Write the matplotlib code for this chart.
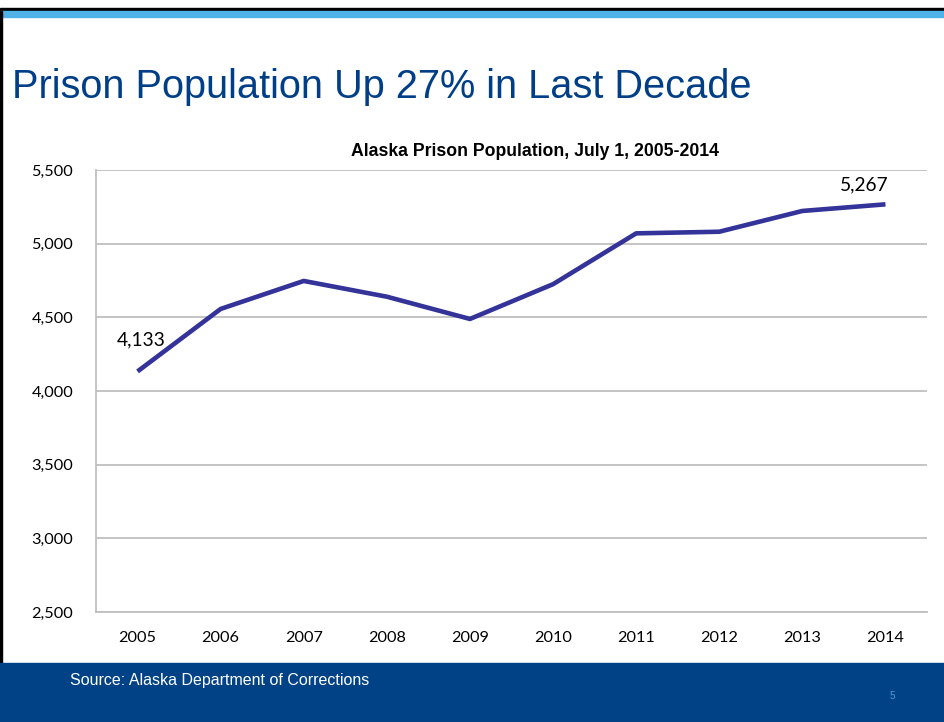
import matplotlib.pyplot as plt
from matplotlib.patches import Rectangle
from matplotlib.ticker import FuncFormatter

# Alaska prison population on July 1 of each year
years = ['2005', '2006', '2007', '2008', '2009', '2010', '2011', '2012', '2013', '2014']
population = [4133, 4557, 4747, 4640, 4489, 4725, 5070, 5081, 5222, 5267]
y_ticks = [2500, 3000, 3500, 4000, 4500, 5000, 5500]

W, H = 945, 722
fig = plt.figure(figsize=(W / 100, H / 100), dpi=100)

# pixel helpers (top-left origin, like the slide)
def fx(px):
    return px / W

def fy(py):
    return 1 - py / H

# slide decorations: black rule, light blue band, left border, footer band
fig.patches.append(Rectangle((0, fy(11)), 1, 3 / H, transform=fig.transFigure,
                             color='black', zorder=0))
fig.patches.append(Rectangle((0, fy(17)), 1, 6 / H, transform=fig.transFigure,
                             color='#4FB3E7', zorder=0))
fig.patches.append(Rectangle((0, fy(663)), 2 / W, (663 - 11) / H, transform=fig.transFigure,
                             color='black', zorder=0))
fig.patches.append(Rectangle((0, 0), 1, (H - 663) / H, transform=fig.transFigure,
                             color='#004285', zorder=0))

# slide title
fig.text(fx(12), fy(98), 'Prison Population Up 27% in Last Decade', fontsize=28.6,
         family='Liberation Sans', color='#003F87', ha='left', va='baseline')

# footer text
fig.text(fx(70), fy(681), 'Source: Alaska Department of Corrections', fontsize=11.5,
         family='Liberation Sans', color='white', ha='left', va='center')
fig.text(fx(892), fy(696), '5', fontsize=7, family='Liberation Sans',
         color='#4A9BE0', ha='center', va='center')

# chart
ax = fig.add_axes([fx(96), fy(612), fx(927) - fx(96), fy(170) - fy(612)])
x = list(range(len(years)))
ax.plot(x, population, color='#333399', linewidth=3.3, solid_capstyle='butt', zorder=3)

ax.set_xlim(-0.5, len(years) - 0.5)
ax.set_ylim(y_ticks[0], y_ticks[-1])
ax.set_xticks(x)
ax.set_xticklabels(years)
ax.set_yticks(y_ticks)
ax.yaxis.set_major_formatter(FuncFormatter(lambda v, p: f'{int(v):,}'))

ax.grid(axis='y', color='#BFBFBF', linewidth=1.3)
ax.set_axisbelow(True)
for side in ['top', 'right']:
    ax.spines[side].set_visible(False)
for side in ['left', 'bottom']:
    ax.spines[side].set_color('#BFBFBF')
    ax.spines[side].set_linewidth(1.3)

ax.tick_params(axis='both', length=0, labelsize=11.7)
ax.tick_params(axis='y', pad=16.5)
ax.tick_params(axis='x', pad=14)
for lbl in ax.get_xticklabels() + ax.get_yticklabels():
    lbl.set_family('Lato')

# end point labels
ax.annotate(f'{population[0]:,}', (x[0], population[0]), xytext=(4, 32),
            textcoords='offset pixels', ha='center', va='center', fontsize=13.8,
            family='Lato')
ax.annotate(f'{population[-1]:,}', (x[-1], population[-1]), xytext=(-21, 19),
            textcoords='offset pixels', ha='center', va='center', fontsize=13.8,
            family='Lato')

# chart title
fig.text(fx(719), fy(151), 'Alaska Prison Population, July 1, 2005-2014', fontsize=12.7,
         fontweight='bold', family='Liberation Sans', ha='right', va='center')

fig.savefig('out.png', dpi=100)
